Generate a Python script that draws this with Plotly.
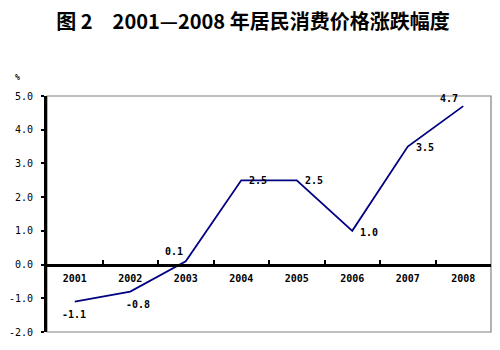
import plotly.graph_objects as go

# 居民消费价格涨跌幅度（%）
years = ["2001", "2002", "2003", "2004", "2005", "2006", "2007", "2008"]
cpi_change = [-1.1, -0.8, 0.1, 2.5, 2.5, 1.0, 3.5, 4.7]
y_ticks = [-2.0, -1.0, 0.0, 1.0, 2.0, 3.0, 4.0, 5.0]

title_text = "图 2　2001—2008 年居民消费价格涨跌幅度"
unit_text = "%"

# label placement per point: (xanchor, yanchor, xshift, yshift)
label_pos = [
    ("center", "top", -1, -5),
    ("left", "top", -6, -5),
    ("right", "bottom", -1, 2),
    ("left", "middle", 6, 0),
    ("left", "middle", 6, 0),
    ("left", "middle", 6, -2),
    ("left", "middle", 6, -1),
    ("right", "bottom", -3, 0),
]

fig = go.Figure()
fig.add_trace(go.Scatter(
    x=years, y=cpi_change, mode="lines",
    line=dict(color="#000080", width=1.8),
    hoverinfo="skip", showlegend=False,
))

annotations = []
label_font = dict(family="DejaVu Sans Mono, monospace", size=10, color="black")
for i, (v, (xa, ya, xs, ys)) in enumerate(zip(cpi_change, label_pos)):
    annotations.append(dict(
        x=i, y=v, xref="x", yref="y", text=f"<b>{v:.1f}</b>",
        showarrow=False, xanchor=xa, yanchor=ya, xshift=xs, yshift=ys,
        font=label_font,
    ))

# unit label above the value axis
annotations.append(dict(
    x=-25 / 446, y=1 + 17 / 236, xref="paper", yref="paper",
    xanchor="center", yanchor="middle", xshift=-5, yshift=2,
    text=f"<b>{unit_text}</b>", showarrow=False,
    font=dict(family="DejaVu Sans Mono", size=8, color="black"),
))

y_min, y_max = -2.0, 5.0
fig.update_layout(
    width=500, height=350,
    margin=dict(l=45, r=9, t=96, b=18),
    paper_bgcolor="white", plot_bgcolor="white",
    annotations=annotations,
    # gray frame around the plotting area
    shapes=[dict(type="rect", xref="paper", yref="paper", x0=0, y0=0, x1=1, y1=1,
                 line=dict(color="#808080", width=1.2), layer="below")],
    title=dict(
        text=f"<b>{title_text}</b>", x=0.506, xanchor="center",
        y=1 - 22 / 350, yanchor="middle",
        font=dict(family="Noto Sans CJK SC", size=20, color="black"),
    ),
    xaxis=dict(
        type="category", range=[-0.5, 7.5],
        anchor="free", position=(0 - y_min) / (y_max - y_min),
        showline=True, linecolor="black", linewidth=3,
        ticks="inside", tickson="boundaries", ticklen=4, tickwidth=1.5, tickcolor="black",
        tickfont=dict(family="DejaVu Sans Mono", size=10, color="black"),
        ticklabelstandoff=3,
        showgrid=False, zeroline=False,
        tickvals=years, ticktext=[f"<b>{y}</b>" for y in years],
    ),
    yaxis=dict(
        range=[y_min, y_max], tickvals=y_ticks,
        ticktext=[f"{t:.1f}" for t in y_ticks],
        showline=True, linecolor="black", linewidth=3,
        ticks="outside", ticklen=3, tickwidth=1.5, tickcolor="black",
        tickfont=dict(family="DejaVu Sans Mono", size=10, color="black"),
        ticklabelstandoff=6,
        showgrid=False, zeroline=False,
    ),
)

fig.write_html("out.html")
